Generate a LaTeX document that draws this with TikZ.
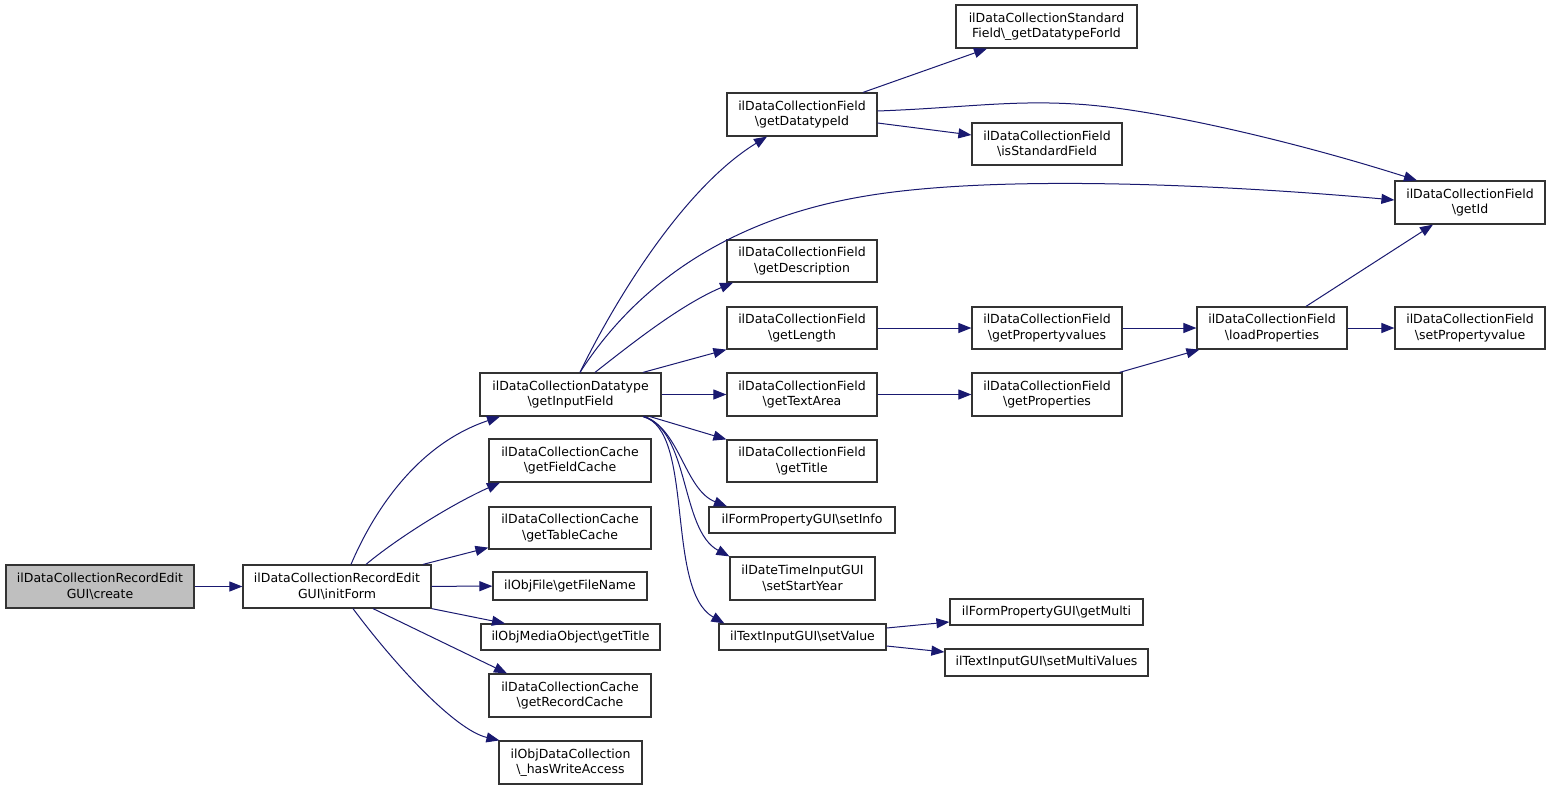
\documentclass[tikz,border=0pt]{standalone}
\usepackage{fontspec}
\setmainfont{DejaVu Sans}
\usetikzlibrary{arrows.meta}
\definecolor{edgeblue}{HTML}{191970}
\definecolor{rootgray}{HTML}{BFBFBF}
\definecolor{boxline}{HTML}{333333}
\tikzset{
  box/.style={draw=boxline, line width=1.2pt, fill=white, inner sep=0pt, align=center,
    font=\fontsize{12.5}{15.5}\selectfont},
  rootbox/.style={box, fill=rootgray},
  edge/.style={draw=edgeblue, line width=1pt, -{Triangle[length=13pt,width=10pt]}},
}
\newcommand\bx[7][box]{\node[#1, minimum width={(#5-#3)*1pt}, minimum height={(#6-#4)*1pt}] (#2) at ({(#3+#5)/2},{(#4+#6)/2}) {#7};}
\begin{document}
\begin{tikzpicture}[x=1pt,y=-1pt]
\useasboundingbox (0,0) rectangle (1549,789);
\fill[white] (0,0) rectangle (1549,789);
% nodes
\bx[rootbox]{create}{6}{565}{194}{608}{ilDataCollectionRecordEdit\\GUI\textbackslash create}
\bx{initForm}{243}{565}{431}{608}{ilDataCollectionRecordEdit\\GUI\textbackslash initForm}
\bx{getInputField}{480}{373}{661}{416}{ilDataCollectionDatatype\\\textbackslash getInputField}
\bx{getFieldCache}{489}{439}{651}{482}{ilDataCollectionCache\\\textbackslash getFieldCache}
\bx{getTableCache}{489}{507}{651}{549}{ilDataCollectionCache\\\textbackslash getTableCache}
\bx{getFileName}{493}{572}{647}{600}{ilObjFile\textbackslash getFileName}
\bx{mediaTitle}{481}{624}{660}{650}{ilObjMediaObject\textbackslash getTitle}
\bx{getRecordCache}{489}{674}{651}{717}{ilDataCollectionCache\\\textbackslash getRecordCache}
\bx{hasWriteAccess}{499}{741}{642}{784}{ilObjDataCollection\\\textbackslash \_hasWriteAccess}
\bx{getDatatypeId}{727}{93}{877}{136}{ilDataCollectionField\\\textbackslash getDatatypeId}
\bx{getDatatypeForId}{956}{5}{1137}{48}{ilDataCollectionStandard\\Field\textbackslash \_getDatatypeForId}
\bx{isStandardField}{972}{123}{1122}{165}{ilDataCollectionField\\\textbackslash isStandardField}
\bx{getId}{1395}{181}{1545}{224}{ilDataCollectionField\\\textbackslash getId}
\bx{getDescription}{727}{240}{877}{282}{ilDataCollectionField\\\textbackslash getDescription}
\bx{getLength}{727}{307}{877}{349}{ilDataCollectionField\\\textbackslash getLength}
\bx{getPropertyvalues}{972}{307}{1122}{349}{ilDataCollectionField\\\textbackslash getPropertyvalues}
\bx{loadProperties}{1197}{307}{1347}{349}{ilDataCollectionField\\\textbackslash loadProperties}
\bx{setPropertyvalue}{1395}{307}{1545}{349}{ilDataCollectionField\\\textbackslash setPropertyvalue}
\bx{getTextArea}{727}{373}{877}{416}{ilDataCollectionField\\\textbackslash getTextArea}
\bx{getProperties}{972}{373}{1122}{416}{ilDataCollectionField\\\textbackslash getProperties}
\bx{getTitle}{727}{440}{877}{482}{ilDataCollectionField\\\textbackslash getTitle}
\bx{setInfo}{709}{507}{895}{533}{ilFormPropertyGUI\textbackslash setInfo}
\bx{setStartYear}{730}{557}{875}{600}{ilDateTimeInputGUI\\\textbackslash setStartYear}
\bx{setValue}{719}{624}{886}{650}{ilTextInputGUI\textbackslash setValue}
\bx{getMulti}{950}{599}{1143}{625}{ilFormPropertyGUI\textbackslash getMulti}
\bx{setMultiValues}{945}{649}{1148}{676}{ilTextInputGUI\textbackslash setMultiValues}
% edges from create / initForm
\draw[edge] (create) -- (initForm);
\draw[edge] ([xshift=14pt]initForm.north) .. controls (372,515) and (415,445) .. ([xshift=-70.5pt]getInputField.south);
\draw[edge] ([xshift=29pt]initForm.north) .. controls (395,540) and (450,505) .. ([xshift=-70pt]getFieldCache.south);
\draw[edge] ([xshift=86pt]initForm.north) -- ([yshift=2pt]getTableCache.south west);
\draw[edge] (initForm) -- (getFileName);
\draw[edge] (initForm.south east) -- ([xshift=-65.5pt]mediaTitle.north);
\draw[edge] ([xshift=36pt]initForm.south) -- ([xshift=-63pt]getRecordCache.north);
\draw[edge] ([xshift=16pt]initForm.south) .. controls (395,665) and (455,730) .. ([xshift=1pt]hasWriteAccess.north west);
% edges from getInputField
\draw[edge] ([xshift=9.5pt]getInputField.north) .. controls (610,310) and (680,190) .. ([xshift=-35pt]getDatatypeId.south);
\draw[edge] ([xshift=9.5pt]getInputField.north) .. controls (620,310) and (700,225) .. (860,197) .. controls (1000,172) and (1250,187) .. ([yshift=2.5pt]getId.west);
\draw[edge] ([xshift=24.5pt]getInputField.north) .. controls (630,345) and (680,305) .. ([xshift=-69pt]getDescription.south);
\draw[edge] ([xshift=72.5pt]getInputField.north) -- (getLength.south west);
\draw[edge] (getInputField) -- (getTextArea);
\draw[edge] ([xshift=79.5pt]getInputField.south) -- (getTitle.north west);
\draw[edge] ([xshift=74.5pt]getInputField.south) .. controls (680,430) and (685,490) .. ([xshift=-75pt]setInfo.north);
\draw[edge] ([xshift=72.5pt]getInputField.south) .. controls (690,430) and (680,530) .. (setStartYear.north west);
\draw[edge] ([xshift=72.5pt]getInputField.south) .. controls (695,430) and (665,590) .. ([xshift=6pt]setValue.north west);
% edges from getDatatypeId
\draw[edge] ([xshift=61pt]getDatatypeId.north) -- ([xshift=-59.5pt]getDatatypeForId.south);
\draw[edge] ([yshift=-8.5pt]getDatatypeId.east) -- ([yshift=9pt]isStandardField.west);
\draw[edge] ([yshift=3.5pt]getDatatypeId.east) .. controls (960,108) and (1010,100) .. (1075,104) .. controls (1150,108) and (1290,140) .. ([xshift=-53pt]getId.north);
% property chain
\draw[edge] (getLength) -- (getPropertyvalues);
\draw[edge] (getPropertyvalues) -- (loadProperties);
\draw[edge] (getTextArea) -- (getProperties);
\draw[edge] ([xshift=-3pt]getProperties.north east) -- ([xshift=3pt]loadProperties.south west);
\draw[edge] ([xshift=34pt]loadProperties.north) -- ([xshift=-37pt]getId.south);
\draw[edge] (loadProperties) -- (setPropertyvalue);
% setValue
\draw[edge] ([yshift=9pt]setValue.east) -- ([yshift=-10pt]getMulti.west);
\draw[edge] ([yshift=-9pt]setValue.east) -- ([yshift=10.5pt]setMultiValues.west);
\end{tikzpicture}
\end{document}
